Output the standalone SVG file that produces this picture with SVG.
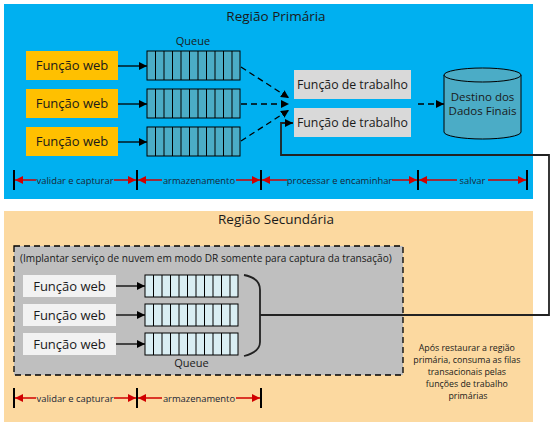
<svg xmlns="http://www.w3.org/2000/svg" width="555" height="426" viewBox="0 0 555 426">
<style>
text{font-family:"Open Sans","Noto Sans",sans-serif;fill:#1a1a1a}
.title{font-size:13.5px}
.fn{font-size:13px}
.wk{font-size:12.3px}
.small{font-size:9.4px;fill:#1a2636}
.q1{fill:#4BACC6;stroke:#000;stroke-width:1}
.q2{fill:#DAEEF3;stroke:#000;stroke-width:1}
.cell{stroke:#000;stroke-width:1}
.arr{stroke:#000;stroke-width:1.3;fill:none;marker-end:url(#ah)}
.dash{stroke:#000;stroke-width:1.3;fill:none;stroke-dasharray:6,4;marker-end:url(#ah)}
.red{stroke:#D00000;stroke-width:1.3;marker-start:url(#rs);marker-end:url(#re)}
.tick{stroke:#000;stroke-width:2}
</style>
<defs>
<marker id="ah" viewBox="0 0 10 10" refX="10" refY="5" markerWidth="8" markerHeight="8" markerUnits="userSpaceOnUse" orient="auto"><path d="M0,0L10,5L0,10z" fill="#000"/></marker>
<marker id="re" viewBox="0 0 10 10" refX="10" refY="5" markerWidth="8" markerHeight="8" markerUnits="userSpaceOnUse" orient="auto"><path d="M0,0L10,5L0,10z" fill="#D00000"/></marker>
<marker id="rs" viewBox="0 0 10 10" refX="0" refY="5" markerWidth="8" markerHeight="8" markerUnits="userSpaceOnUse" orient="auto"><path d="M10,0L0,5L10,10z" fill="#D00000"/></marker>
<g id="cells1">
<path class="cell" d="M155.5,0v29M164,0v29M172.5,0v29M181,0v29M189.5,0v29M198,0v29M206.5,0v29M215,0v29M223.5,0v29M232,0v29"/>
</g>
<g id="cells2">
<path class="cell" d="M153.5,0v22M162,0v22M170.5,0v22M179,0v22M187.5,0v22M196,0v22M204.5,0v22M213,0v22M221.5,0v22M230,0v22"/>
</g>
</defs>

<g id="primary-region">
<rect x="4" y="4" width="529" height="195" fill="#00B0F0"/>
<text class="title" x="276" y="21" text-anchor="middle">Região Primária</text>
</g>

<g id="secondary-region">
<rect x="4" y="211" width="529" height="211" fill="#FCD9A0"/>
<text class="title" x="276" y="224" text-anchor="middle">Região Secundária</text>
</g>

<g id="dr-box">
<rect x="14" y="246" width="389" height="129" fill="#BFBFBF" stroke="#000" stroke-width="1.3" stroke-dasharray="6,4"/>
<text x="20" y="262" style="font-size:10.1px">(Implantar serviço de nuvem em modo DR somente para captura da transação)</text>
</g>

<g id="web1"><rect x="26" y="51" width="92" height="29" fill="#FFC000"/><text class="fn" x="72" y="70" text-anchor="middle">Função web</text></g>
<g id="web2"><rect x="26" y="89" width="92" height="29" fill="#FFC000"/><text class="fn" x="72" y="108" text-anchor="middle">Função web</text></g>
<g id="web3"><rect x="26" y="127" width="92" height="29" fill="#FFC000"/><text class="fn" x="72" y="146" text-anchor="middle">Função web</text></g>

<g id="queue-label-1"><text x="193" y="45" text-anchor="middle" style="font-size:11px">Queue</text></g>
<g id="queue1"><rect class="q1" x="147" y="51" width="93" height="29"/><use href="#cells1" y="51"/></g>
<g id="queue2"><rect class="q1" x="147" y="89" width="93" height="29"/><use href="#cells1" y="89"/></g>
<g id="queue3"><rect class="q1" x="147" y="127" width="93" height="29"/><use href="#cells1" y="127"/></g>

<g id="worker1"><rect x="294" y="70" width="117" height="29" fill="#D9D9D9"/><text class="wk" x="352.5" y="89" text-anchor="middle">Função de trabalho</text></g>
<g id="worker2"><rect x="294" y="108" width="117" height="29" fill="#D9D9D9"/><text class="wk" x="352.5" y="127" text-anchor="middle">Função de trabalho</text></g>

<g id="destination">
<path d="M444,75v57a38.5,7 0 0 0 77,0v-57" fill="#4BACC6" stroke="#000" stroke-width="1"/>
<ellipse cx="482.5" cy="75" rx="38.5" ry="7" fill="#4BACC6" stroke="#000" stroke-width="1"/>
<text x="482.5" y="101" text-anchor="middle" style="font-size:11.5px">Destino dos</text>
<text x="482.5" y="115" text-anchor="middle" style="font-size:11.5px">Dados Finais</text>
</g>

<g id="sweb1"><rect x="23" y="275" width="93" height="22" fill="#F2F2F2"/><text class="fn" x="69.5" y="291" text-anchor="middle">Função web</text></g>
<g id="sweb2"><rect x="23" y="304" width="93" height="22" fill="#F2F2F2"/><text class="fn" x="69.5" y="320" text-anchor="middle">Função web</text></g>
<g id="sweb3"><rect x="23" y="333" width="93" height="22" fill="#F2F2F2"/><text class="fn" x="69.5" y="349" text-anchor="middle">Função web</text></g>

<g id="squeue1"><rect class="q2" x="145" y="275" width="93" height="22"/><use href="#cells2" y="275"/></g>
<g id="squeue2"><rect class="q2" x="145" y="304" width="93" height="22"/><use href="#cells2" y="304"/></g>
<g id="squeue3"><rect class="q2" x="145" y="333" width="93" height="22"/><use href="#cells2" y="333"/></g>
<g id="queue-label-2"><text x="191.5" y="367" text-anchor="middle" style="font-size:11px">Queue</text></g>

<g id="note">
<text text-anchor="middle" style="font-size:8.8px">
<tspan x="468" y="351">Após restaurar a região</tspan>
<tspan x="468" y="363">primária, consuma as filas</tspan>
<tspan x="468" y="375">transacionais pelas</tspan>
<tspan x="468" y="387">funções de trabalho</tspan>
<tspan x="468" y="399">primárias</tspan>
</text>
</g>

<g id="connectors">
<line class="arr" x1="118" y1="66" x2="147" y2="66"/>
<line class="arr" x1="118" y1="104" x2="147" y2="104"/>
<line class="arr" x1="118" y1="142" x2="147" y2="142"/>
<line class="dash" x1="241" y1="67" x2="289" y2="98"/>
<line class="dash" x1="241" y1="104" x2="289" y2="104"/>
<line class="dash" x1="241" y1="141" x2="289" y2="110"/>
<line class="dash" x1="418" y1="104" x2="444" y2="104"/>
<line class="arr" x1="116" y1="286" x2="145" y2="286"/>
<line class="arr" x1="116" y1="315" x2="145" y2="315"/>
<line class="arr" x1="116" y1="344" x2="145" y2="344"/>
<path d="M244,275Q260,278 260,290V342Q260,352 244,356" fill="none" stroke="#222" stroke-width="1.8"/>
<path d="M260,315H549V155H281V123H293" fill="none" stroke="#222" stroke-width="1.8" marker-end="url(#ah)"/>
</g>

<g id="scale-primary">
<line class="tick" x1="14" y1="170" x2="14" y2="190"/>
<line class="tick" x1="137" y1="170" x2="137" y2="190"/>
<line class="tick" x1="261" y1="170" x2="261" y2="190"/>
<line class="tick" x1="418" y1="170" x2="418" y2="190"/>
<line class="tick" x1="527" y1="170" x2="527" y2="190"/>
<line class="red" x1="15" y1="180" x2="136" y2="180"/>
<line class="red" x1="138" y1="180" x2="260" y2="180"/>
<line class="red" x1="262" y1="180" x2="417" y2="180"/>
<line class="red" x1="419" y1="180" x2="526" y2="180"/>
<rect x="36" y="173" width="78" height="14" fill="#00B0F0"/>
<rect x="162" y="173" width="74" height="14" fill="#00B0F0"/>
<rect x="287" y="173" width="105" height="14" fill="#00B0F0"/>
<rect x="457" y="173" width="31" height="14" fill="#00B0F0"/>
<text class="small" x="75" y="183.5" text-anchor="middle">validar e capturar</text>
<text class="small" x="199" y="183.5" text-anchor="middle">armazenamento</text>
<text class="small" x="339.5" y="183.5" text-anchor="middle">processar e encaminhar</text>
<text class="small" x="472.5" y="183.5" text-anchor="middle">salvar</text>
</g>

<g id="scale-secondary">
<line class="tick" x1="14" y1="388" x2="14" y2="408"/>
<line class="tick" x1="137" y1="388" x2="137" y2="408"/>
<line class="tick" x1="261" y1="388" x2="261" y2="408"/>
<line class="red" x1="15" y1="398" x2="136" y2="398"/>
<line class="red" x1="138" y1="398" x2="260" y2="398"/>
<rect x="36" y="391" width="78" height="14" fill="#FCD9A0"/>
<rect x="162" y="391" width="74" height="14" fill="#FCD9A0"/>
<text class="small" x="75" y="401.5" text-anchor="middle">validar e capturar</text>
<text class="small" x="199" y="401.5" text-anchor="middle">armazenamento</text>
</g>
</svg>
